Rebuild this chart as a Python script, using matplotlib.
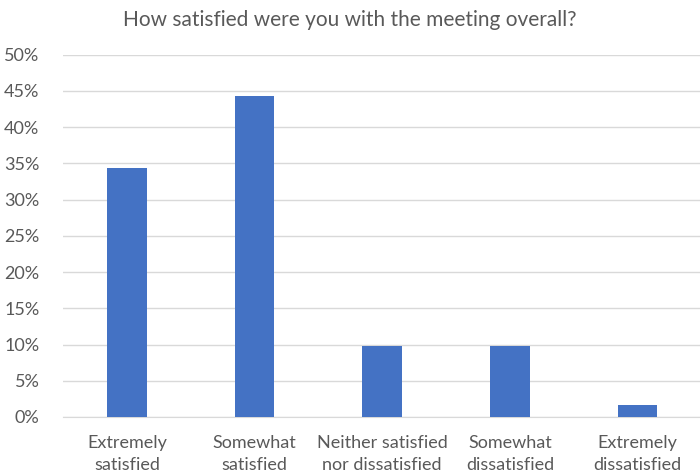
import matplotlib
matplotlib.use("Agg")
import matplotlib.pyplot as plt
from matplotlib.ticker import FuncFormatter

categories = ["Extremely\nsatisfied", "Somewhat\nsatisfied", "Neither satisfied\nnor dissatisfied",
              "Somewhat\ndissatisfied", "Extremely\ndissatisfied"]
values = [34.4, 44.3, 9.8, 9.8, 1.6]
title = "How satisfied were you with the meeting overall?"

plt.rcParams['font.family'] = ['Lato', 'DejaVu Sans']
fig = plt.figure(figsize=(7.0, 4.74), dpi=100)
ax = fig.add_axes([0.09, 0.1203, 0.912, 0.7643])

x = range(len(categories))
ax.bar(x, values, width=0.31, color="#4472C4", zorder=3)
ax.set_xlim(-0.5, len(categories) - 0.5)
ax.set_ylim(0, 50)
ax.set_yticks(range(0, 51, 5))
ax.yaxis.set_major_formatter(FuncFormatter(lambda v, p: f"{int(v)}%"))
ax.set_xticks(list(x))
ax.set_xticklabels(categories, linespacing=1.45)
ax.grid(axis="y", color="#D9D9D9", linewidth=1, zorder=0)
for s in ["top", "right", "left"]:
    ax.spines[s].set_visible(False)
ax.spines["bottom"].set_color("#D9D9D9")
ax.tick_params(axis="both", length=0, colors="#595959", labelsize=13)
ax.tick_params(axis="y", pad=17)
ax.tick_params(axis="x", pad=13)
fig.text(0.5, 0.957, title, ha="center", va="center", fontsize=15, color="#595959")
fig.savefig("out.png", dpi=100)
